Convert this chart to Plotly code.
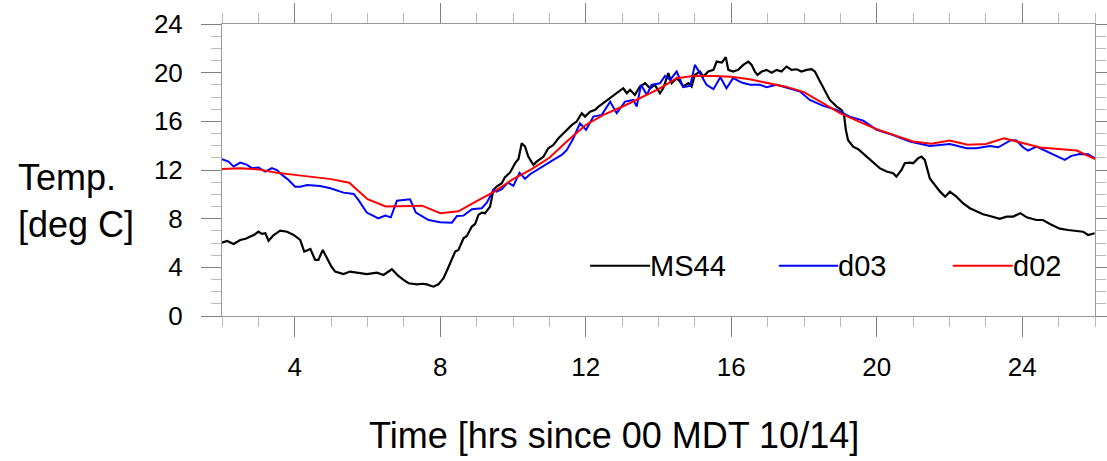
import plotly.graph_objects as go

# ---------------- data ----------------
X_TICKS = [4, 8, 12, 16, 20, 24]
Y_TICKS = [0, 4, 8, 12, 16, 20, 24]
SERIES_NAMES = ["MS44", "d03", "d02"]

MS44_T = [2.00, 2.14, 2.32, 2.50, 2.65, 2.78, 2.90, 3.00, 3.10, 3.19,
          3.28, 3.42, 3.60, 3.79, 3.97, 4.15, 4.26, 4.35, 4.43, 4.56,
          4.65, 4.77, 4.88, 5.00, 5.11, 5.34, 5.52, 5.71, 5.98, 6.26,
          6.44, 6.67, 6.85, 7.00, 7.13, 7.36, 7.50, 7.63, 7.81, 7.95,
          8.09, 8.23, 8.41, 8.50, 8.64, 8.73, 8.87, 8.96, 9.05, 9.14,
          9.23, 9.37, 9.46, 9.55, 9.69, 9.78, 9.92, 10.06, 10.15, 10.24,
          10.33, 10.42, 10.56, 10.65, 10.84, 10.97, 11.11, 11.25, 11.38, 11.52,
          11.62, 11.75, 11.89, 11.98, 12.12, 12.26, 12.35, 12.48, 12.67, 12.81,
          12.94, 13.03, 13.13, 13.22, 13.35, 13.49, 13.63, 13.77, 13.90, 14.04,
          14.13, 14.27, 14.36, 14.50, 14.59, 14.68, 14.82, 14.91, 15.00, 15.14,
          15.23, 15.37, 15.51, 15.60, 15.74, 15.85, 15.92, 16.05, 16.19, 16.33,
          16.47, 16.56, 16.65, 16.72, 16.84, 16.97, 17.11, 17.25, 17.38, 17.52,
          17.66, 17.80, 17.93, 18.07, 18.21, 18.30, 18.44, 18.57, 18.71, 18.90,
          19.03, 19.10, 19.15, 19.21, 19.35, 19.49, 19.67, 19.86, 20.08, 20.27,
          20.45, 20.54, 20.68, 20.77, 20.91, 21.00, 21.14, 21.23, 21.32, 21.46,
          21.60, 21.74, 21.88, 22.01, 22.19, 22.37, 22.56, 22.74, 22.92, 23.11,
          23.38, 23.57, 23.75, 23.95, 24.12, 24.39, 24.57, 24.76, 25.03, 25.26,
          25.44, 25.67, 25.81, 25.99]
MS44_V = [6.03, 6.17, 5.92, 6.25, 6.35, 6.52, 6.70, 6.93, 6.75, 6.80,
          6.19, 6.66, 7.02, 6.93, 6.66, 6.25, 5.29, 5.40, 5.51, 4.61,
          4.61, 5.43, 4.74, 4.10, 3.65, 3.45, 3.65, 3.56, 3.45, 3.56,
          3.37, 3.84, 3.29, 2.95, 2.69, 2.60, 2.65, 2.60, 2.41, 2.60,
          3.10, 4.05, 5.29, 5.43, 6.39, 6.58, 7.35, 7.57, 8.31, 8.50,
          8.45, 8.99, 10.36, 10.63, 10.91, 11.40, 11.80, 12.56, 12.90, 14.20,
          13.93, 13.10, 12.42, 12.69, 13.10, 13.79, 14.06, 14.61, 15.02, 15.43,
          15.71, 15.98, 16.67, 16.39, 16.80, 16.94, 17.21, 17.49, 17.90, 18.17,
          18.45, 18.72, 18.31, 18.59, 18.17, 18.86, 19.13, 18.72, 19.00, 18.31,
          18.72, 19.96, 19.13, 19.55, 19.27, 18.86, 19.13, 18.86, 19.82, 20.09,
          19.68, 20.09, 20.23, 20.91, 20.83, 21.27, 20.23, 20.09, 20.23, 20.64,
          20.91, 20.64, 20.09, 19.82, 20.09, 20.23, 20.00, 20.23, 20.09, 20.50,
          20.23, 20.28, 20.09, 20.23, 20.28, 20.09, 19.27, 18.59, 17.76, 17.21,
          16.94, 16.53, 15.30, 14.47, 13.92, 13.71, 13.24, 12.69, 12.15, 11.87,
          11.73, 11.46, 12.00, 12.56, 12.61, 12.56, 12.97, 13.10, 12.83, 11.30,
          10.77, 10.22, 9.81, 10.22, 9.81, 9.27, 8.86, 8.58, 8.36, 8.22,
          7.98, 8.17, 8.17, 8.45, 8.11, 7.89, 7.89, 7.57, 7.18, 7.07,
          6.99, 6.93, 6.66, 6.80]

D03_T = [2.00, 2.18, 2.32, 2.50, 2.69, 2.82, 3.00, 3.19, 3.37, 3.51,
         3.65, 3.83, 4.01, 4.15, 4.34, 4.70, 4.98, 5.34, 5.62, 5.75,
         5.98, 6.30, 6.49, 6.64, 6.81, 7.17, 7.33, 7.68, 8.00, 8.32,
         8.46, 8.64, 8.87, 9.14, 9.28, 9.46, 9.55, 9.69, 9.86, 10.01,
         10.18, 10.33, 10.47, 10.65, 10.88, 11.11, 11.34, 11.48, 11.66, 11.84,
         12.01, 12.21, 12.44, 12.67, 12.85, 13.08, 13.31, 13.40, 13.52, 13.68,
         13.81, 14.04, 14.18, 14.32, 14.50, 14.68, 14.87, 15.00, 15.14, 15.32,
         15.51, 15.70, 15.87, 16.05, 16.29, 16.52, 16.79, 16.97, 17.25, 17.61,
         17.89, 18.16, 18.53, 18.90, 19.26, 19.63, 20.00, 20.45, 20.91, 21.46,
         22.01, 22.47, 22.74, 23.11, 23.34, 23.70, 23.84, 24.02, 24.16, 24.39,
         24.76, 25.17, 25.35, 25.58, 25.81, 25.99]
D03_V = [12.89, 12.69, 12.28, 12.61, 12.42, 12.15, 12.20, 11.87, 12.15, 12.00,
         11.60, 11.18, 10.63, 10.63, 10.77, 10.69, 10.50, 10.14, 10.03, 9.54,
         8.50, 8.03, 8.25, 8.11, 9.48, 9.59, 8.50, 7.89, 7.70, 7.67,
         8.22, 8.25, 8.77, 8.86, 9.32, 10.36, 10.22, 10.42, 10.96, 10.69,
         11.78, 11.28, 11.65, 12.00, 12.42, 12.83, 13.24, 13.65, 14.61, 15.84,
         15.30, 16.39, 16.53, 17.62, 16.67, 17.62, 17.76, 17.21, 19.00, 18.17,
         19.00, 19.13, 19.74, 19.41, 20.09, 18.81, 18.91, 20.64, 19.96, 19.00,
         18.64, 19.63, 18.72, 19.55, 19.19, 19.00, 19.00, 18.81, 19.00, 18.72,
         18.45, 17.76, 17.27, 16.94, 16.39, 16.06, 15.30, 14.88, 14.33, 13.98,
         14.14, 13.79, 13.79, 13.98, 13.87, 14.47, 14.42, 13.87, 13.59, 13.92,
         13.38, 12.83, 13.16, 13.32, 13.30, 12.97]

D02_T = [2.0, 2.5, 3.0, 3.5, 4.0, 4.5, 5.0, 5.5, 6.0, 6.5,
         7.0, 7.5, 8.0, 8.5, 9.0, 9.5, 10.0, 10.5, 11.0, 11.5,
         12.0, 12.5, 13.0, 13.5, 14.0, 14.5, 15.0, 15.5, 16.0, 16.5,
         17.0, 17.5, 18.0, 18.5, 19.0, 19.5, 20.0, 20.5, 21.0, 21.5,
         22.0, 22.5, 23.0, 23.5, 24.0, 24.5, 25.0, 25.5, 26.0]
D02_V = [12.09, 12.15, 12.05, 11.78, 11.60, 11.40, 11.25, 10.95, 9.60, 9.00,
         9.05, 9.07, 8.45, 8.60, 9.45, 10.25, 11.25, 12.05, 13.00, 14.40,
         15.70, 16.55, 17.20, 17.90, 18.65, 19.55, 19.74, 19.72, 19.67, 19.45,
         19.15, 18.85, 18.40, 17.55, 16.65, 16.00, 15.35, 14.85, 14.35, 14.15,
         14.42, 14.08, 14.14, 14.60, 14.25, 13.85, 13.72, 13.60, 12.90]

assert len(MS44_T) == len(MS44_V)
assert len(D03_T) == len(D03_V)
assert len(D02_T) == len(D02_V)

COLORS = ["black", "#0000ff", "#ff0000"]
WIDTHS = [2.2, 2.0, 2.0]
FONT = "Liberation Sans, Arial, Helvetica, sans-serif"

fig = go.Figure()
for name, t, v, c, w in zip(SERIES_NAMES, [MS44_T, D03_T, D02_T],
                            [MS44_V, D03_V, D02_V], COLORS, WIDTHS):
    fig.add_trace(go.Scatter(x=t, y=v, mode="lines", name=name,
                             line=dict(color=c, width=w), showlegend=False))

# ---- in-plot legend (line sample followed by label), NCL style ----
LEG_Y = 4.14
LEG_ITEMS = [(12.12, 13.77), (17.31, 18.94), (22.09, 23.74)]
for (x0, x1), name, c in zip(LEG_ITEMS, SERIES_NAMES, COLORS):
    fig.add_shape(type="line", xref="x", yref="y", x0=x0, x1=x1,
                  y0=LEG_Y, y1=LEG_Y, line=dict(color=c, width=2))
    fig.add_annotation(x=x1, y=LEG_Y, xref="x", yref="y", text=name,
                       showarrow=False, xanchor="left", yanchor="middle",
                       xshift=-2, font=dict(size=29, color="black", family=FONT))

# ---- horizontal y-axis title ----
fig.add_annotation(xref="paper", yref="paper", x=-0.236, y=0.395,
                   text="Temp.<br>[deg C]", showarrow=False, align="left",
                   xanchor="left", yanchor="middle",
                   font=dict(size=36, color="black", family=FONT))

# ---- x-axis title (offset left of plot centre as in the reference) ----
fig.add_annotation(xref="paper", yref="paper", x=0.4485, y=-0.41,
                   text="Time [hrs since 00 MDT 10/14]", showarrow=False,
                   xanchor="center", yanchor="middle",
                   font=dict(size=36, color="black", family=FONT))

axis_common = dict(
    showgrid=False, zeroline=False, showline=True, linecolor="#999999",
    linewidth=1, mirror="ticks", ticks="outside", ticklen=20, tickwidth=1,
    tickcolor="#808080", tickfont=dict(size=26, color="black", family=FONT),
    tickmode="array",
    minor=dict(ticks="outside", ticklen=10, tickwidth=1, tickcolor="#bbbbbb",
               dtick=1, tick0=0, showgrid=False),
)

fig.update_xaxes(range=[2, 26], tickvals=X_TICKS,
                 ticktext=[str(v) for v in X_TICKS],
                 ticklabelstandoff=8, **axis_common)
fig.update_yaxes(range=[0, 24], tickvals=Y_TICKS,
                 ticktext=[str(v) for v in Y_TICKS],
                 ticklabelstandoff=13, **axis_common)

fig.update_layout(
    width=1107, height=461,
    margin=dict(l=222, r=12, t=24, b=145, autoexpand=False),
    plot_bgcolor="white", paper_bgcolor="white",
    font=dict(family=FONT, color="black"),
    showlegend=False,
)

fig.write_html("out.html")
